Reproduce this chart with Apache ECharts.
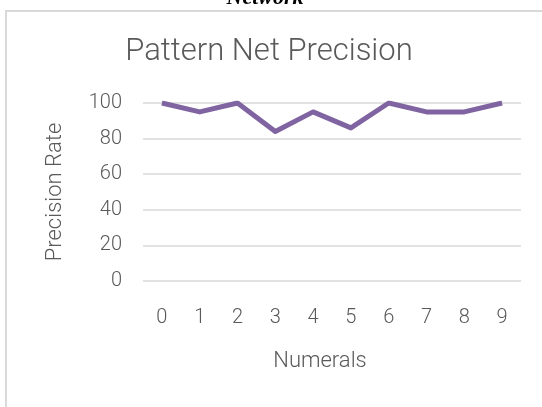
<!DOCTYPE html>
<html>
<head>
<meta charset="utf-8">
<script src="https://cdn.jsdelivr.net/npm/echarts@6/dist/echarts.min.js"></script>
<style>
  html, body { margin: 0; padding: 0; background: #fff; }
  #main { width: 542px; height: 407px; }
</style>
</head>
<body>
<div id="main"></div>
<script>
// numerals on the x axis
var categories = ['0', '1', '2', '3', '4', '5', '6', '7', '8', '9']
// precision rate per numeral
var precision = [100, 95, 100, 84, 95, 86, 100, 95, 95, 100]
var yTicks = { min: 0, max: 100, step: 20 }

var textColor = '#595959'
var chart = echarts.init(document.getElementById('main'))

var option = {
  animation: false,
  title: {
    text: 'Pattern Net Precision',
    left: 264,
    textAlign: 'center',
    top: 32,
    textStyle: {
      fontFamily: 'Roboto',
      fontWeight: 300,
      fontSize: 31,
      color: textColor
    }
  },
  graphic: [
    {
      // chart frame
      type: 'rect',
      shape: { x: 6, y: 11, width: 560, height: 420 },
      style: { fill: 'none', stroke: '#d9d9d9', lineWidth: 2 },
      silent: true
    },
    {
      // caption of the figure above, cut off at the top
      type: 'text',
      x: 265,
      y: -13,
      style: {
        text: 'Network',
        textAlign: 'center',
        font: 'italic bold 22px "Liberation Serif", serif',
        fill: '#000'
      }
    }
  ],
  grid: {
    left: 143,
    right: 21,
    top: 103,
    bottom: 126
  },
  xAxis: {
    type: 'category',
    data: categories,
    boundaryGap: true,
    name: 'Numerals',
    nameLocation: 'middle',
    nameGap: 69,
    nameTextStyle: {
      fontFamily: 'Roboto',
      fontWeight: 300,
      fontSize: 22,
      color: textColor,
      padding: [0, 24, 0, 0]
    },
    axisLine: { show: false },
    axisTick: { show: false },
    axisLabel: {
      margin: 27,
      fontFamily: 'Roboto',
      fontWeight: 300,
      fontSize: 20,
      color: textColor
    }
  },
  yAxis: {
    type: 'value',
    min: yTicks.min,
    max: yTicks.max,
    interval: yTicks.step,
    name: 'Precision Rate',
    nameLocation: 'middle',
    nameGap: 77,
    nameTextStyle: {
      fontFamily: 'Roboto',
      fontWeight: 300,
      fontSize: 22,
      color: textColor
    },
    axisLine: { show: false },
    axisTick: { show: false },
    axisLabel: {
      margin: 21,
      fontFamily: 'Roboto',
      fontWeight: 300,
      fontSize: 20,
      color: textColor
    },
    splitLine: {
      lineStyle: { color: '#d9d9d9', width: 1.5 }
    }
  },
  series: [
    {
      name: 'Precision',
      type: 'line',
      data: precision,
      symbol: 'none',
      lineStyle: { color: '#8064a2', width: 5, join: 'round' }
    }
  ]
}

chart.setOption(option)
</script>
</body>
</html>
